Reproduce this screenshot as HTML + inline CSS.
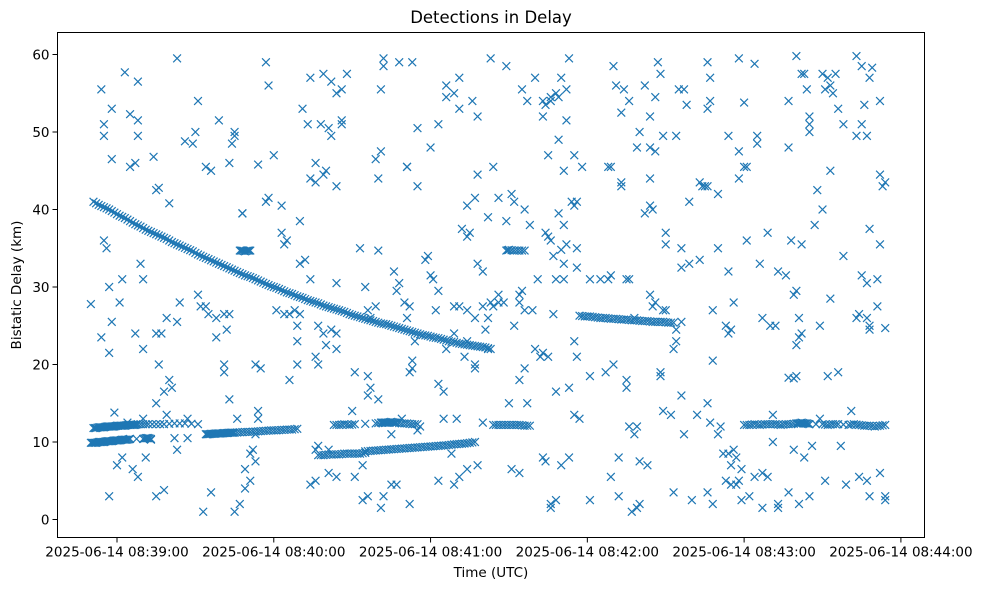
<!DOCTYPE html>
<html><head><meta charset="utf-8"><style>
body{margin:0;background:#fff;}
svg{display:block;font-family:"DejaVu Sans","Liberation Sans",sans-serif;}
</style></head><body>
<svg id="chart" width="987" height="590"></svg>
<script>
const yTicks=[0,10,20,30,40,50,60];
const xTicks=[60,120,180,240,300,360];
const xTickLabels=["2025-06-14 08:39:00","2025-06-14 08:40:00","2025-06-14 08:41:00","2025-06-14 08:42:00","2025-06-14 08:43:00","2025-06-14 08:44:00"];
// times: seconds after 08:38:00 UTC ; delays in km
const trackATimes=[51,53,55,57,59,61,63,65,67,69,71,73,75,77,79,81,83,85,87,89,91,93,95,97,99,101,103,105,107,109,111,113,115,117,119,121,123,125,127,129,131,133,135,137,139,141,143,145,147,149,151,153,155,157,159,161,163,165,167,169,171,173,175,177,179,181,183,185,187,189,191,193,195,197,199,201,203];
const trackADelays=[41.0,40.6,40.3,40.0,39.6,39.2,38.9,38.5,38.1,37.8,37.4,37.1,36.8,36.5,36.2,35.8,35.5,35.2,34.9,34.6,34.2,33.9,33.6,33.3,33.0,32.7,32.4,32.1,31.8,31.5,31.3,31.0,30.7,30.4,30.1,29.9,29.6,29.3,29.1,28.8,28.6,28.3,28.1,27.9,27.6,27.4,27.2,27.0,26.8,26.5,26.3,26.1,25.9,25.7,25.5,25.3,25.2,25.0,24.8,24.6,24.4,24.2,24.0,23.8,23.7,23.5,23.4,23.2,23.0,22.9,22.7,22.6,22.5,22.4,22.3,22.2,22.0];
const trackBTimes=[51,52,53,54,55,56,57,58,59,60,61,62,63,64,65,66,67,68,70,72,75,78,82,86,91];
const trackBDelays=[11.8,11.8,11.9,11.9,11.9,12.0,12.0,12.0,12.0,12.1,12.1,12.1,12.1,12.2,12.2,12.2,12.2,12.3,12.3,12.3,12.3,12.3,12.4,12.4,12.3];
const trackCTimes=[50,51,52,53,54,55,56,57,58,59,60,61,62,63,64,65,70,71,72,73];
const trackCDelays=[9.9,9.9,9.9,10.0,10.0,10.0,10.1,10.1,10.1,10.2,10.2,10.2,10.3,10.3,10.3,10.4,10.4,10.5,10.5,10.4];
const trackDTimes=[94,95,96,97,98,99,100,101,102,103,104,105,107,109,111,113,115,117,119,121,123,125,127,129];
const trackDDelays=[11.0,11.0,11.05,11.05,11.1,11.1,11.1,11.15,11.15,11.2,11.2,11.2,11.25,11.3,11.3,11.35,11.4,11.45,11.5,11.5,11.55,11.6,11.6,11.7];
const trackETimes=[137,139,141,143,145,147,149,151,153,155];
const trackEDelays=[8.3,8.3,8.4,8.4,8.4,8.5,8.5,8.5,8.5,8.6];
const trackFTimes=[143,145,147,149,151,159,161,162,163,164,165,166,167,169,171,173,175];
const trackFDelays=[12.2,12.2,12.3,12.2,12.3,12.4,12.5,12.5,12.5,12.5,12.6,12.5,12.5,12.4,12.4,12.3,12.3];
const trackGTimes=[155,157,159,161,163,165,167,169,171,173,175,177,179,181,183,185,187,189,191,193,195,197];
const trackGDelays=[8.8,8.85,8.9,8.95,9.0,9.05,9.1,9.15,9.2,9.25,9.3,9.35,9.4,9.45,9.5,9.55,9.6,9.7,9.75,9.8,9.9,10.0];
const trackHTimes=[204,206,208,210,212,214,216,218];
const trackHDelays=[12.2,12.2,12.2,12.2,12.2,12.2,12.1,12.1];
const trackITimes=[237,239,241,243,245,247,249,251,253,255,257,259,261,263,265,267,269,271,273];
const trackIDelays=[26.3,26.2,26.2,26.1,26.0,26.0,25.9,25.9,25.8,25.8,25.7,25.7,25.6,25.6,25.5,25.5,25.5,25.4,25.4];
const trackJTimes=[300,302,304,306,308,310,312,314,316,318,320,321,322,323,324,325,330,332,334,336,340,342,344,346,348,350,352,354];
const trackJDelays=[12.2,12.2,12.3,12.2,12.3,12.3,12.3,12.2,12.3,12.3,12.4,12.4,12.5,12.4,12.4,12.3,12.3,12.2,12.3,12.3,12.2,12.3,12.2,12.1,12.1,12.0,12.1,12.2];
const trackKTimes=[107,108,109,110,111,209,210,212,214,216];
const trackKDelays=[34.7,34.7,34.6,34.7,34.7,34.7,34.8,34.7,34.7,34.7];
const scatterPoints=[[54,55.5],[55,51],[55,49.5],[58,53],[58,46.5],[63,57.7],[65,52.3],[68,56.5],[68,51.5],[68,49.5],[67,46],[65,45.5],[76,42.8],[75,42.5],[74,46.8],[80,40.8],[83,59.5],[86,48.8],[55,36],[56,35],[57,30],[62,31],[69,33],[70,31],[61,28],[58,25.5],[67,24],[57,21.5],[50,27.8],[54,23.5],[81,17],[78,16.5],[75,15],[79,13.5],[87,13],[70,22],[75,24],[77,24],[79,26],[83,25.5],[84,28],[76,20],[80,18],[72,10.5],[73,10.3],[62,8],[66,6.5],[57,3],[75,3],[78,3.8],[60,7],[83,9],[71,8],[68,5.5],[59,13.8],[64,12.5],[82,10.5],[70,13],[87,10.5],
[91,54],[90,50],[89,48.5],[94,45.5],[96,45],[99,51.5],[103,46],[104,48.5],[105,50],[105,49.5],[108,39.5],[108,39.5],[114,45.8],[120,47],[117,41],[118,41.5],[123,40.5],[117,59],[118,56],[123,37],[125,36],[124,35.5],[130,38.5],[130,33],[132,33.5],[92,27.5],[94,27.5],[95,26.5],[98,26],[101,26.5],[102,24.5],[103,26.5],[91,29],[98,23.5],[101,20],[101,19],[103,15.5],[106,13],[114,14],[114,13],[113,11],[112,9],[111,8.5],[113,7.5],[109,6.5],[96,3.5],[93,1],[105,1],[107,2],[109,4],[111,5],[113,20],[115,19.5],[129,20],[126,18],[129,25],[130,26.5],[121,27],[124,26.5],[126,26.5],[128,27],[129,23],
[134,57],[139,57.5],[142,56.5],[144,55],[131,53],[133,51],[138,51],[141,50.5],[142,49.5],[146,51],[146,51.5],[148,57.5],[146,55.5],[134,44],[136,43.5],[139,44.5],[144,43],[136,46],[140,45],[134,31],[144,30.5],[153,35],[155,30],[156,27],[159,27.5],[157,26],[137,25],[139,24],[142,24.5],[144,24],[140,22.5],[144,22],[137,20],[136,21],[151,19],[156,18.5],[157,17],[156,16],[160,15.5],[150,14],[136,9],[137,9.5],[141,9],[154,7],[151,5.5],[134,4.5],[136,5],[141,6],[154,2.5],[156,3],[161,1.5],[162,3],[165,4.5],[167,4.5],[172,2],[144,5.5],[159,46.5],[160,44],[161,47.5],[161,55.5],[162,58.5],[162,59.5],[168,59],[173,59],[171,45.5],[171,45.5],[175,43],[175,50.5],[166,32],[168,30.5],[167,29.5],[170,28],[172,27.5],[171,26],[172,19],[173,19.5],[173,20.5],[174,23],[165,11],[169,13],
[180,48],[183,51],[186,54.5],[186,56],[191,57],[189,55],[191,53],[196,54],[198,52],[203,59.5],[209,58.5],[204,45.5],[198,44.5],[194,40.5],[197,41.5],[206,41.5],[202,39],[192,37.5],[195,37],[194,36.5],[178,33.5],[179,34],[180,31.5],[181,31],[183,29.5],[182,27],[189,27.5],[191,27.5],[194,27],[197,26],[200,27.5],[203,28],[204,27.5],[189,24],[201,24.5],[194,23],[186,22],[193,21],[183,17.5],[185,16.5],[185,13],[197,19.5],[197,20],[190,13],[188,8.5],[183,5],[189,4.5],[191,5.5],[194,6.5],[198,7],[200,12.5],[202,22],[202,26],[206,29],[198,33],[200,32],[175,11.5],[176,12],
[220,57],[215,55.5],[217,54],[223,54],[224,53.5],[226,54.5],[228,55],[226,54],[223,52],[229,54.5],[232,55.5],[230,57],[233,59.5],[232,51.5],[229,49],[225,47],[235,47],[238,45.5],[231,45],[211,42],[212,41],[216,40],[209,38.5],[218,38],[224,37],[225,36.5],[232,35.5],[226,36],[230,34.8],[227,34],[229,39.5],[234,41],[236,41],[231,38],[235,40.5],[236,35],[231,33],[236,32.5],[241,31],[221,31],[228,31],[231,31],[214,29],[215,29.5],[214,28],[216,27],[227,26.5],[219,27],[206,28],[208,28],[212,25],[220,22],[222,21],[223,21.5],[225,21],[235,23],[236,21],[214,18],[216,19.5],[241,18.5],[233,17],[235,13.5],[237,13],[210,15],[217,15],[223,8],[224,7.5],[211,6.5],[214,6],[230,7],[233,8],[226,2],[226,1.5],[228,2.5],[241,2.5],[228,16.5],
[250,58.5],[251,56],[254,55.5],[256,54],[253,52.5],[262,56],[267,59],[268,57.5],[266,54.5],[264,52],[260,50],[259,48],[264,48],[266,47.5],[269,49.5],[274,49.5],[275,55.5],[277,55.5],[278,53.5],[264,44],[253,43.5],[253,43],[248,45.5],[249,45.5],[264,40.5],[265,40],[262,39.5],[270,37],[270,35.5],[276,35],[279,33],[276,32.5],[245,31],[248,31],[249,31.5],[255,31],[256,31],[264,29],[265,27.5],[266,28],[269,27],[270,27],[258,26],[276,25.5],[274,24.5],[274,23],[273,22],[268,19],[268,18.5],[250,20],[247,19],[255,17],[255,18],[269,14],[272,13.5],[256,12],[259,12],[258,11],[252,8],[263,7],[260,7.5],[249,5.5],[252,3],[273,3.5],[280,2.5],[257,1],[259,1.5],[260,2],[276,16],[277,11],[283,43.5],[285,43],[279,41],[283,33.5],
[286,59],[287,57],[287,54],[286,53],[298,59.5],[304,58.8],[300,53.8],[294,49.5],[305,48.5],[305,49.5],[298,47.5],[300,45.5],[301,45.5],[298,44],[290,42],[286,43],[284,43],[301,36],[290,35],[294,32],[296,28],[288,27],[307,26],[293,25],[294,24],[295,24.5],[309,37],[306,33],[313,32],[316,31.5],[318,36],[319,29],[310,25],[312,25],[288,20.5],[286,15],[282,13.5],[287,12.5],[290,11],[291,12],[292,8.5],[294,8.5],[295,7],[296,9],[297,8],[299,6.5],[293,5],[295,4.5],[298,5],[297,4.5],[286,3.5],[288,2],[299,2.5],[307,1.5],[302,3],[304,5.5],[307,6],[309,5.5],[313,1.5],[313,2],[311,10],[311,13.5],[317,48],[317,54],
[320,59.8],[322,57.5],[323,57.5],[324,55.5],[325,52],[325,51],[325,50],[330,57.5],[335,57.5],[332,57],[333,56],[334,55],[331,55.5],[336,53],[338,51],[343,49.5],[343,59.8],[345,58.5],[348,57],[349,58.3],[346,53.5],[345,51],[347,49.5],[352,54],[333,45],[328,42.5],[330,40],[327,38],[322,35.5],[338,34],[345,31.5],[347,30.5],[351,31],[333,28.5],[343,26],[344,26.5],[329,25],[322,24],[321,23.5],[320,22.5],[321,26],[320,29.5],[351,27.5],[347,26],[348,24.5],[348,25],[352,35.5],[348,37.5],[352,44.5],[353,43],[354,43.5],[354,24.7],[317,18.3],[319,18.2],[320,18.5],[336,19],[332,18.5],[341,14],[329,13],[326,9.5],[337,9.5],[319,9],[323,8],[331,5],[344,5.5],[347,5],[339,4.5],[317,3.5],[325,3],[321,2],[348,3],[354,3],[352,6],[354,2.5]];

const NS='http://www.w3.org/2000/svg';
const svg=document.getElementById('chart');
const L=57.5,R=924.5,T=32.5,B=537.5;
function xScale(t){return 117+(t-60)*2.613;}
function yScale(d){return 519.5-d*7.75;}
function mk(tag,attrs,parent){const e=document.createElementNS(NS,tag);for(const k in attrs)e.setAttribute(k,attrs[k]);(parent||svg).appendChild(e);return e;}
function txt(s,attrs,parent){const e=mk('text',attrs,parent);e.textContent=s;return e;}

const title=txt('Detections in Delay',{x:(L+R)/2,y:23,'text-anchor':'middle','font-size':'16.5'});



const marks=mk('g',{stroke:'#1f77b4','stroke-width':'1.2',fill:'none'});


function marker(t,d,name){
  const x=xScale(t),y=yScale(d),s=3.9;
  const p=mk('path',{d:`M${x-s},${y-s}L${x+s},${y+s}M${x-s},${y+s}L${x+s},${y-s}`},marks);
  
  
}
const tracks=[[trackATimes,trackADelays],[trackBTimes,trackBDelays],[trackCTimes,trackCDelays],[trackDTimes,trackDDelays],[trackETimes,trackEDelays],[trackFTimes,trackFDelays],[trackGTimes,trackGDelays],[trackHTimes,trackHDelays],[trackITimes,trackIDelays],[trackJTimes,trackJDelays],[trackKTimes,trackKDelays]];
tracks.forEach(tr=>{
  const ts=tr[0],ds=tr[1];
  for(let i=0;i<ts.length;i++){
    marker(ts[i],ds[i],'track-detection');
    if(i<ts.length-1){
      marker((ts[i]+ts[i+1])/2,(ds[i]+ds[i+1])/2,'track-detection');
    }
  }
});
scatterPoints.forEach(p=>marker(p[0],p[1],'detection-point'));

const frame=mk('rect',{x:L,y:T,width:R-L,height:B-T,fill:'none',stroke:'#000','stroke-width':'1'});



const yAxis=mk('g',{'font-size':'13.5'});


yTicks.forEach(v=>{
  const y=yScale(v);
  mk('line',{x1:L-5,x2:L,y1:y,y2:y,stroke:'#000'},yAxis);
  const t=txt(String(v),{x:L-8,y:y+5,'text-anchor':'end'},yAxis);
  
  
});
const xAxis=mk('g',{'font-size':'13.5'});


xTicks.forEach((v,i)=>{
  const x=xScale(v);
  mk('line',{x1:x,x2:x,y1:B,y2:B+5,stroke:'#000'},xAxis);
  const t=txt(xTickLabels[i],{x:x,y:B+19,'text-anchor':'middle'},xAxis);
  
  
});
const xl=txt('Time (UTC)',{x:(L+R)/2,y:577,'text-anchor':'middle','font-size':'13.5'});


const yl=txt('Bistatic Delay (km)',{x:0,y:0,'text-anchor':'middle','font-size':'13.5',transform:`translate(21,${(T+B)/2}) rotate(-90)`});


</script>
</body></html>
